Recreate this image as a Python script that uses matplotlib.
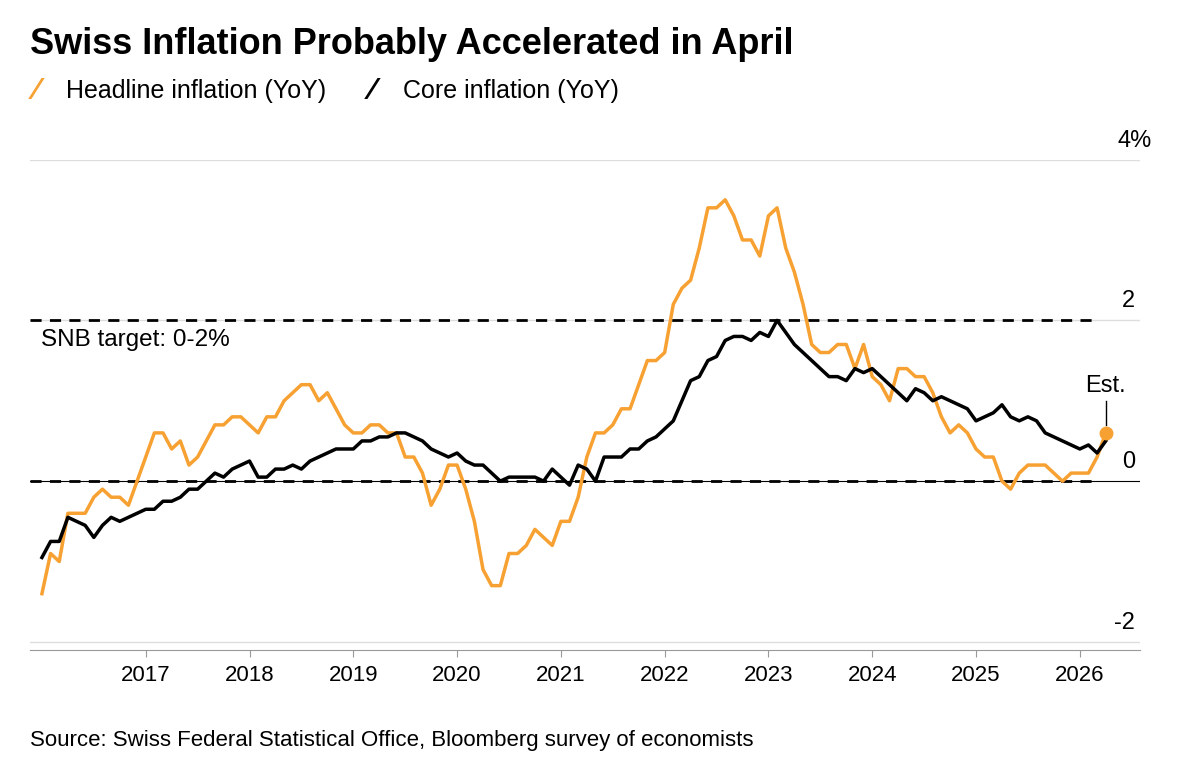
import numpy as np
import matplotlib.pyplot as plt

plt.rcParams["font.family"] = ["Liberation Sans", "DejaVu Sans"]

headline = [
    -1.4, -0.9, -1.0, -0.4, -0.4, -0.4, -0.2, -0.1, -0.2, -0.2, -0.3, 0.0,   # 2016
    0.3, 0.6, 0.6, 0.4, 0.5, 0.2, 0.3, 0.5, 0.7, 0.7, 0.8, 0.8,              # 2017
    0.7, 0.6, 0.8, 0.8, 1.0, 1.1, 1.2, 1.2, 1.0, 1.1, 0.9, 0.7,              # 2018
    0.6, 0.6, 0.7, 0.7, 0.6, 0.6, 0.3, 0.3, 0.1, -0.3, -0.1, 0.2,            # 2019
    0.2, -0.1, -0.5, -1.1, -1.3, -1.3, -0.9, -0.9, -0.8, -0.6, -0.7, -0.8,   # 2020
    -0.5, -0.5, -0.2, 0.3, 0.6, 0.6, 0.7, 0.9, 0.9, 1.2, 1.5, 1.5,           # 2021
    1.6, 2.2, 2.4, 2.5, 2.9, 3.4, 3.4, 3.5, 3.3, 3.0, 3.0, 2.8,              # 2022
    3.3, 3.4, 2.9, 2.6, 2.2, 1.7, 1.6, 1.6, 1.7, 1.7, 1.4, 1.7,              # 2023
    1.3, 1.2, 1.0, 1.4, 1.4, 1.3, 1.3, 1.1, 0.8, 0.6, 0.7, 0.6,              # 2024
    0.4, 0.3, 0.3, 0.0, -0.1, 0.1, 0.2, 0.2, 0.2, 0.1, 0.0, 0.1,             # 2025
    0.1, 0.1, 0.3, 0.6,                                                      # 2026
]
core = [
    -0.95, -0.75, -0.75, -0.45, -0.5, -0.55, -0.7, -0.55, -0.45, -0.5, -0.45, -0.4,
    -0.35, -0.35, -0.25, -0.25, -0.2, -0.1, -0.1, 0.0, 0.1, 0.05, 0.15, 0.2,
    0.25, 0.05, 0.05, 0.15, 0.15, 0.2, 0.15, 0.25, 0.3, 0.35, 0.4, 0.4,
    0.4, 0.5, 0.5, 0.55, 0.55, 0.6, 0.6, 0.55, 0.5, 0.4, 0.35, 0.3,
    0.35, 0.25, 0.2, 0.2, 0.1, 0.0, 0.05, 0.05, 0.05, 0.05, 0.0, 0.15,
    0.05, -0.05, 0.2, 0.15, 0.0, 0.3, 0.3, 0.3, 0.4, 0.4, 0.5, 0.55,
    0.65, 0.75, 1.0, 1.25, 1.3, 1.5, 1.55, 1.75, 1.8, 1.8, 1.75, 1.85,
    1.8, 2.0, 1.85, 1.7, 1.6, 1.5, 1.4, 1.3, 1.3, 1.25, 1.4, 1.35,
    1.4, 1.3, 1.2, 1.1, 1.0, 1.15, 1.1, 1.0, 1.05, 1.0, 0.95, 0.9,
    0.75, 0.8, 0.85, 0.95, 0.8, 0.75, 0.8, 0.75, 0.6, 0.55, 0.5, 0.45,
    0.4, 0.45, 0.35, 0.5,
]
years = list(range(2017, 2027))
y_ticks = [-2, 0, 2, 4]
y_labels = ["-2", "0", "2", "4%"]

orange = "#F7A133"
t = 2016 + np.arange(len(headline)) / 12

fig = plt.figure(figsize=(12, 7.71), dpi=100)
ax = fig.add_axes([0.025, 0.157, 0.925, 0.636])
ax.set_xlim(2015.885, 2026.58)
ax.set_ylim(-2.1, 4)

for y in [-2, 2, 4]:
    ax.axhline(y, color="#dddddd", lw=1, zorder=0)
ax.axhline(0, color="black", lw=0.8, zorder=1)
ax.hlines([0, 2], 2015.885, 2026.15, colors="black", linestyles=(0, (4, 3)), lw=2, zorder=2)

ax.plot(t, headline, color=orange, lw=2.5, zorder=3)
ax.plot(t, core, color="black", lw=2.5, zorder=4)
ax.plot(t[-1], headline[-1], "o", color=orange, ms=9, zorder=5)
ax.plot([t[-1], t[-1]], [headline[-1] + 0.1, 1.0], color="black", lw=1)
ax.text(t[-1], 1.05, "Est.", ha="center", va="bottom", fontsize=17)

ax.text(2015.99, 1.75, "SNB target: 0-2%", fontsize=17.5, va="center")
for y, lab in zip(y_ticks, y_labels):
    if lab == "4%":
        ax.text(2026.36, y + 0.1, lab, ha="left", va="bottom", fontsize=17)
    else:
        ax.text(2026.53, y + 0.1, lab, ha="right", va="bottom", fontsize=17)

ax.set_xticks(years)
ax.set_xticklabels([str(y) for y in years], fontsize=16)
ax.set_yticks([])
for s in ["top", "right", "left"]:
    ax.spines[s].set_visible(False)
ax.spines["bottom"].set_color("#999999")
ax.tick_params(axis="x", length=5, color="#999999", pad=6)

fig.text(0.025, 0.942, "Swiss Inflation Probably Accelerated in April",
         fontsize=26, fontweight="bold", va="center")
fig.text(0.028, 0.882, "⁄", color=orange, fontsize=21, fontweight="bold", va="center",
         family="DejaVu Sans")
fig.text(0.055, 0.882, "Headline inflation (YoY)", fontsize=18, va="center")
fig.text(0.308, 0.882, "⁄", color="black", fontsize=21, fontweight="bold", va="center",
         family="DejaVu Sans")
fig.text(0.336, 0.882, "Core inflation (YoY)", fontsize=18, va="center")
fig.text(0.025, 0.04, "Source: Swiss Federal Statistical Office, Bloomberg survey of economists",
         fontsize=16, va="center")

fig.savefig("out.png", dpi=100)
